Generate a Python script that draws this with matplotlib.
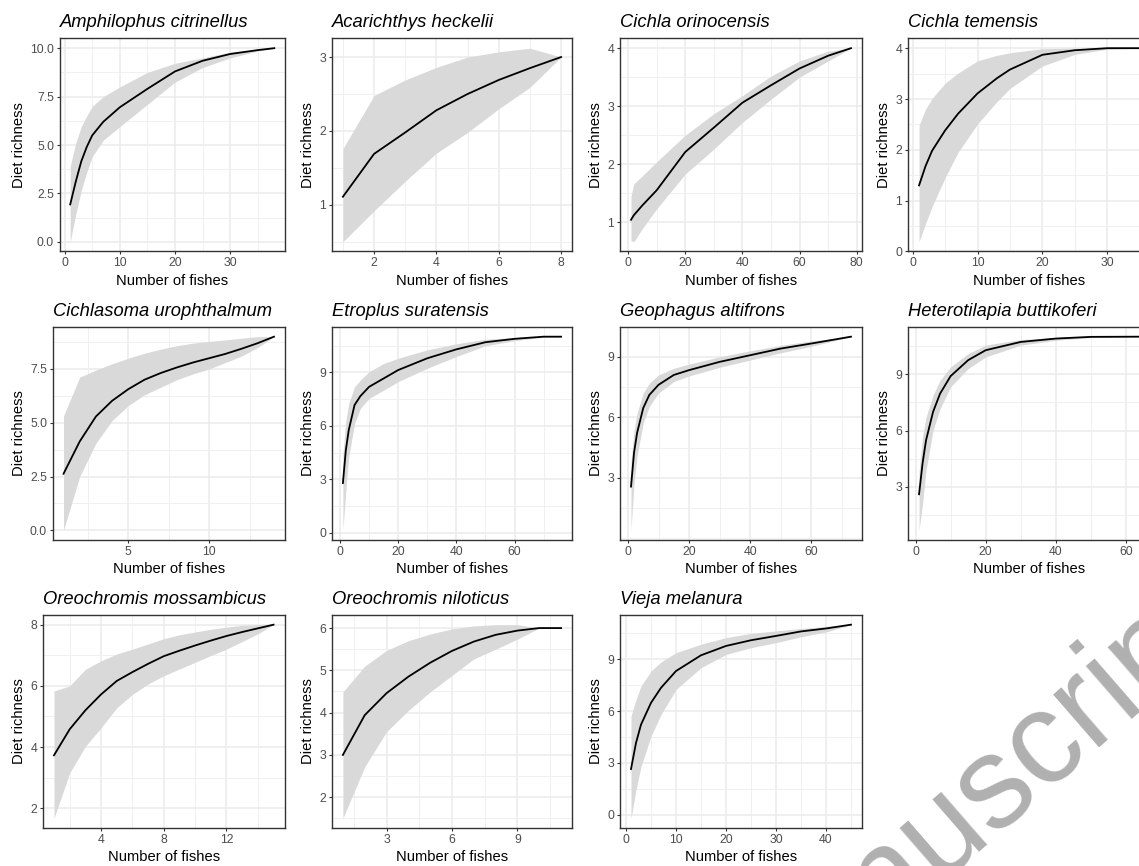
import numpy as np
import matplotlib
matplotlib.use("Agg")
import matplotlib.pyplot as plt
from matplotlib.ticker import AutoMinorLocator

plt.rcParams["font.family"] = ["Liberation Sans", "DejaVu Sans"]

# ---------------- datos ----------------
amph_x = [1, 2, 3, 4, 5, 7, 10, 15, 20, 25, 30, 35, 38]
amph_y = [1.93, 3.1, 4.15, 4.9, 5.5, 6.2, 6.95, 7.9, 8.8, 9.35, 9.7, 9.9, 10.0]
amph_lo = [0.0, 1.4, 2.65, 3.6, 4.4, 5.25, 5.95, 7.1, 8.25, 9.0, 9.5, 9.85, 10.0]
amph_hi = [3.9, 5.1, 5.95, 6.5, 7.0, 7.5, 8.0, 8.75, 9.22, 9.5, 9.8, 9.95, 10.0]

acar_x = [1, 2, 3, 4, 5, 6, 7, 8]
acar_y = [1.11, 1.69, 1.98, 2.28, 2.50, 2.69, 2.85, 3.0]
acar_lo = [0.50, 0.92, 1.32, 1.70, 1.98, 2.30, 2.59, 3.0]
acar_hi = [1.76, 2.48, 2.69, 2.86, 3.0, 3.07, 3.12, 3.0]

cori_x = [1, 2, 5, 10, 20, 30, 40, 50, 60, 70, 78]
cori_y = [1.04, 1.12, 1.29, 1.55, 2.21, 2.63, 3.06, 3.36, 3.65, 3.87, 4.0]
cori_lo = [0.68, 0.66, 0.89, 1.23, 1.83, 2.26, 2.72, 3.12, 3.50, 3.78, 4.0]
cori_hi = [1.45, 1.66, 1.80, 2.04, 2.50, 2.87, 3.18, 3.52, 3.78, 3.95, 4.0]

ctem_x = [1, 2, 3, 5, 7, 10, 13, 15, 20, 25, 30, 35]
ctem_y = [1.30, 1.68, 1.98, 2.38, 2.71, 3.11, 3.41, 3.58, 3.87, 3.96, 4.0, 4.0]
ctem_lo = [0.19, 0.55, 0.88, 1.45, 1.95, 2.51, 2.95, 3.21, 3.65, 3.88, 3.98, 4.0]
ctem_hi = [2.48, 2.80, 3.01, 3.31, 3.51, 3.75, 3.86, 3.91, 3.99, 4.0, 4.0, 4.0]

curo_x = [1, 2, 3, 4, 5, 6, 7, 8, 9, 10, 11, 12, 13, 14]
curo_y = [2.63, 4.13, 5.29, 6.02, 6.56, 7.0, 7.31, 7.57, 7.8, 8.0, 8.2, 8.44, 8.7, 9.0]
curo_lo = [0.0, 2.5, 4.05, 5.1, 5.8, 6.3, 6.65, 7.0, 7.27, 7.5, 7.8, 8.1, 8.5, 9.0]
curo_hi = [5.32, 7.12, 7.45, 7.74, 8.0, 8.23, 8.42, 8.58, 8.7, 8.78, 8.85, 8.93, 9.0, 9.0]

etro_x = [1, 2, 3, 5, 7, 10, 15, 20, 30, 40, 50, 60, 70, 76]
etro_y = [2.8, 4.63, 5.76, 7.17, 7.67, 8.19, 8.66, 9.13, 9.79, 10.29, 10.69, 10.88, 11.0, 11.0]
etro_lo = [0.15, 2.38, 4.26, 6.13, 6.98, 7.54, 8.0, 8.48, 9.23, 9.89, 10.49, 10.78, 10.97, 11.0]
etro_hi = [4.35, 6.3, 7.25, 8.2, 8.57, 9.04, 9.5, 9.79, 10.26, 10.6, 10.86, 10.95, 11.0, 11.0]

geop_x = [1, 2, 3, 5, 7, 10, 15, 20, 30, 40, 50, 60, 73]
geop_y = [2.56, 4.25, 5.23, 6.46, 7.11, 7.61, 8.1, 8.34, 8.75, 9.08, 9.41, 9.66, 10.0]
geop_lo = [0.39, 2.77, 4.08, 5.72, 6.54, 7.2, 7.77, 8.05, 8.48, 8.84, 9.2, 9.52, 10.0]
geop_hi = [3.75, 5.39, 6.21, 7.2, 7.69, 8.1, 8.43, 8.64, 9.0, 9.3, 9.57, 9.79, 10.0]

hete_x = [1, 2, 3, 5, 7, 10, 15, 20, 30, 40, 50, 64]
hete_y = [2.61, 4.25, 5.49, 7.0, 7.97, 8.9, 9.75, 10.28, 10.72, 10.9, 10.99, 11.0]
hete_lo = [0.69, 2.11, 3.89, 6.02, 7.17, 8.33, 9.3, 9.92, 10.55, 10.81, 10.95, 11.0]
hete_hi = [3.8, 5.66, 6.73, 7.88, 8.68, 9.39, 10.1, 10.55, 10.85, 10.95, 11.0, 11.0]

omos_x = [1, 2, 3, 4, 5, 6, 7, 8, 9, 10, 11, 12, 13, 14, 15]
omos_y = [3.73, 4.58, 5.2, 5.72, 6.16, 6.45, 6.72, 6.97, 7.15, 7.32, 7.48, 7.63, 7.76, 7.88, 8.0]
omos_lo = [1.67, 3.15, 4.02, 4.63, 5.28, 5.72, 6.06, 6.33, 6.55, 6.77, 6.99, 7.2, 7.45, 7.7, 8.0]
omos_hi = [5.83, 6.0, 6.54, 6.82, 7.04, 7.2, 7.37, 7.54, 7.67, 7.76, 7.85, 7.92, 7.98, 8.0, 8.0]

onil_x = [1, 2, 3, 4, 5, 6, 7, 8, 9, 10, 11]
onil_y = [3.0, 3.94, 4.46, 4.85, 5.18, 5.46, 5.68, 5.84, 5.94, 6.0, 6.0]
onil_lo = [1.5, 2.72, 3.55, 4.05, 4.49, 4.88, 5.27, 5.5, 5.74, 6.0, 6.0]
onil_hi = [4.49, 5.1, 5.47, 5.7, 5.86, 5.98, 6.05, 6.08, 6.08, 6.0, 6.0]

viej_x = [1, 2, 3, 5, 7, 10, 15, 20, 25, 30, 35, 40, 45]
viej_y = [2.65, 4.16, 5.22, 6.48, 7.35, 8.32, 9.23, 9.77, 10.1, 10.35, 10.61, 10.78, 11.0]
viej_lo = [-0.2, 1.45, 2.8, 4.55, 5.8, 7.25, 8.51, 9.28, 9.67, 9.96, 10.3, 10.58, 11.0]
viej_hi = [5.7, 6.67, 7.45, 8.32, 8.84, 9.38, 9.87, 10.25, 10.5, 10.64, 10.78, 10.9, 11.0]

species = ["Amphilophus citrinellus", "Acarichthys heckelii", "Cichla orinocensis",
           "Cichla temensis", "Cichlasoma urophthalmum", "Etroplus suratensis",
           "Geophagus altifrons", "Heterotilapia buttikoferi", "Oreochromis mossambicus",
           "Oreochromis niloticus", "Vieja melanura"]

series = [
    (amph_x, amph_y, amph_lo, amph_hi),
    (acar_x, acar_y, acar_lo, acar_hi),
    (cori_x, cori_y, cori_lo, cori_hi),
    (ctem_x, ctem_y, ctem_lo, ctem_hi),
    (curo_x, curo_y, curo_lo, curo_hi),
    (etro_x, etro_y, etro_lo, etro_hi),
    (geop_x, geop_y, geop_lo, geop_hi),
    (hete_x, hete_y, hete_lo, hete_hi),
    (omos_x, omos_y, omos_lo, omos_hi),
    (onil_x, onil_y, onil_lo, onil_hi),
    (viej_x, viej_y, viej_lo, viej_hi),
]

x_ticks = [[0, 10, 20, 30], [2, 4, 6, 8], [0, 20, 40, 60, 80], [0, 10, 20, 30],
           [5, 10], [0, 20, 40, 60], [0, 20, 40, 60], [0, 20, 40, 60],
           [4, 8, 12], [3, 6, 9], [0, 10, 20, 30, 40]]
y_ticks = [[0, 2.5, 5, 7.5, 10], [1, 2, 3], [1, 2, 3, 4], [0, 1, 2, 3, 4],
           [0, 2.5, 5, 7.5], [0, 3, 6, 9], [3, 6, 9], [3, 6, 9],
           [2, 4, 6, 8], [2, 3, 4, 5, 6], [0, 3, 6, 9]]
y_fmt = ["{:.1f}", "{:g}", "{:g}", "{:g}", "{:.1f}", "{:g}", "{:g}", "{:g}",
         "{:g}", "{:g}", "{:g}"]

# ---------------- layout (pixeles de la imagen) ----------------
W, H = 1139, 866
row_top = [38.5, 327, 615]
row_bot = [251.5, 540, 828]
col_left = [[60, 53, 43], [332, 332, 332], [620, 620, 620], [908, 908, 908]]
col_right = [284.5, 572, 862, 1151]

fig = plt.figure(figsize=(W / 100, H / 100), dpi=100)

for i, (name, (x, y, lo, hi)) in enumerate(zip(species, series)):
    r, c = divmod(i, 4)
    left = col_left[c][r]
    ax = fig.add_axes([left / W, 1 - row_bot[r] / H,
                       (col_right[c] - left) / W, (row_bot[r] - row_top[r]) / H])

    ax.fill_between(x, lo, hi, color="#D9D9D9", lw=0, zorder=2)
    ax.plot(x, y, color="black", lw=1.3, zorder=3)

    # límites como ggplot (expansión del 5 %)
    xmin, xmax = min(x), max(x)
    ymin, ymax = min(lo + y), max(hi + y)
    dx, dy = 0.05 * (xmax - xmin), 0.05 * (ymax - ymin)
    ax.set_xlim(xmin - dx, xmax + dx)
    ax.set_ylim(ymin - dy, ymax + dy)

    ax.set_xticks(x_ticks[i])
    ax.set_yticks(y_ticks[i])
    ax.set_yticklabels([y_fmt[i].format(v) for v in y_ticks[i]])
    ax.xaxis.set_minor_locator(AutoMinorLocator(2))
    ax.yaxis.set_minor_locator(AutoMinorLocator(2))

    ax.grid(which="major", color="#EBEBEB", lw=1.1, zorder=0)
    ax.grid(which="minor", color="#F0F0F0", lw=0.7, zorder=0)
    ax.set_axisbelow(True)

    ax.tick_params(which="major", length=2.5, width=0.8, color="#333333",
                   labelcolor="#4D4D4D", labelsize=8.8, pad=1.8)
    ax.tick_params(which="minor", length=0)
    for sp in ax.spines.values():
        sp.set_color("#333333")
        sp.set_linewidth(1.0)

    ax.set_xlabel("Number of fishes", fontsize=10.6, labelpad=3)
    ax.set_ylabel("Diet richness", fontsize=10.6, labelpad=3)
    ax.set_title(name, loc="left", fontsize=13.2, style="italic", pad=8)

# marca de agua del manuscrito
fig.text(986 / W, 1 - 836 / H, "Manuscript", fontsize=94, color="#B0B0B0",
         rotation=41, rotation_mode="anchor", ha="center", va="baseline", zorder=10)

fig.savefig("out.png", dpi=100)
